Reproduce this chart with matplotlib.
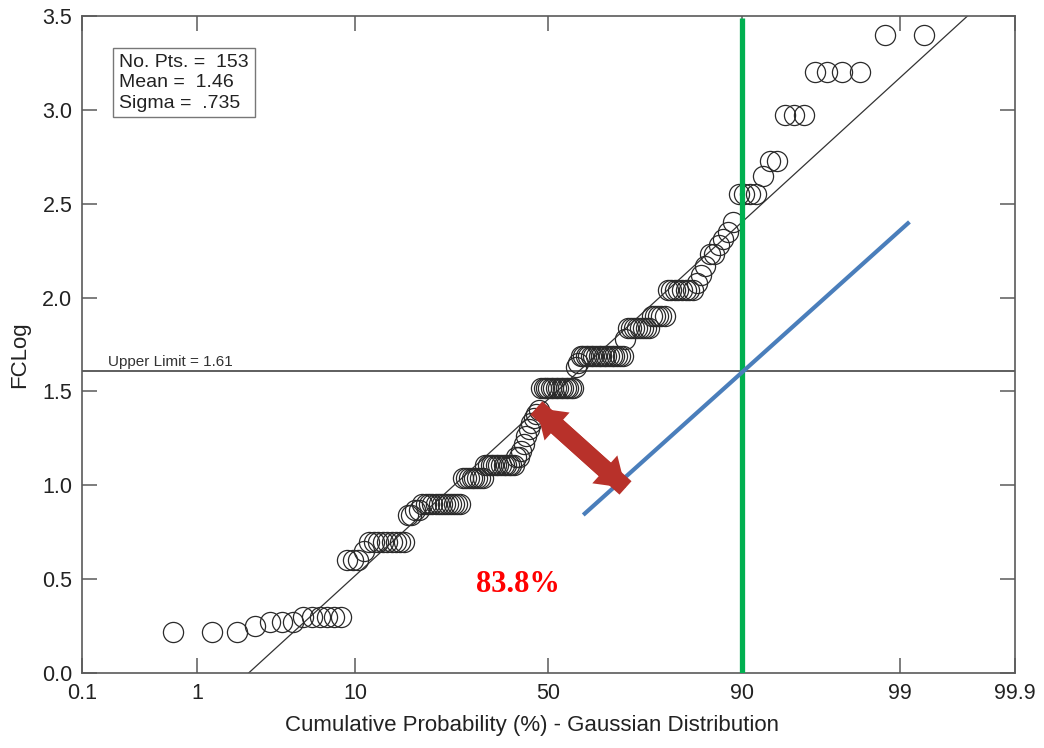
import numpy as np
import matplotlib
matplotlib.use("Agg")
import matplotlib.pyplot as plt
import matplotlib.transforms as mtransforms
from matplotlib.patches import FancyArrowPatch
from statistics import NormalDist

# FCLog values (sorted) and how many samples share each value
fc_levels = [0.22, 0.25, 0.27, 0.30, 0.60, 0.65, 0.70, 0.84, 0.87, 0.90,
             1.04, 1.11, 1.15, 1.18, 1.22, 1.26, 1.30, 1.33, 1.36, 1.38,
             1.40, 1.52, 1.63, 1.65, 1.69, 1.78, 1.84, 1.90, 2.04, 2.08,
             2.12, 2.17, 2.23, 2.28, 2.31, 2.35, 2.40, 2.55, 2.65, 2.73,
             2.97, 3.20, 3.40]
fc_counts = [3, 1, 3, 6, 3, 1, 9, 2, 2, 13,
             8, 12, 2, 1, 1, 1, 1, 1, 1, 1,
             1, 14, 1, 1, 17, 1, 8, 5, 8, 1,
             1, 1, 2, 1, 1, 1, 1, 4, 1, 2,
             3, 4, 2]

n_pts = 153
mean = 1.46
sigma = 0.735
upper_limit = 1.61
pct_ticks = [0.1, 1, 10, 50, 90, 99, 99.9]
pct_labels = ["0.1", "1", "10", "50", "90", "99", "99.9"]
y_ticks = [0.0, 0.5, 1.0, 1.5, 2.0, 2.5, 3.0, 3.5]

# hand drawn overlays
blue_x = [59.1, 99.16]
blue_y = [0.842, 2.403]
arrow_a = (46.8, 1.412)
arrow_b = (69.5, 0.986)
pct_text = "83.8%"

values = np.repeat(fc_levels, fc_counts)
ranks = np.arange(1, len(values) + 1)
cum_pct = 100.0 * ranks / (len(values) + 1)

_nd = NormalDist()
_inv = np.vectorize(_nd.inv_cdf, otypes=[float])
_cdf = np.vectorize(_nd.cdf, otypes=[float])


def to_z(p):
    p = np.clip(np.asarray(p, dtype=float) / 100.0, 1e-9, 1 - 1e-9)
    return _inv(p)


def from_z(z):
    return 100.0 * _cdf(np.asarray(z, dtype=float))


plt.rcParams['font.family'] = ['Liberation Sans', 'DejaVu Sans']
axis_gray = '#5a5a5a'

fig = plt.figure(figsize=(10.44, 7.48), dpi=100)
ax = fig.add_axes([82 / 1044, 75 / 748, 933 / 1044, 657 / 748])
ax.set_xscale('function', functions=(to_z, from_z))
ax.set_xlim(0.1, 99.9)
ax.set_ylim(0, 3.5)

ax.set_xticks(pct_ticks)
ax.set_xticklabels(pct_labels)
ax.set_yticks(y_ticks)
ax.set_yticklabels(["%.1f" % v for v in y_ticks])
ax.minorticks_off()
ax.tick_params(direction='in', length=11, width=1.1, color=axis_gray,
               labelsize=15.5, labelcolor='#222222', top=True, right=True, pad=7)
for s in ax.spines.values():
    s.set_color(axis_gray)
    s.set_linewidth(1.2)

ax.set_xlabel("Cumulative Probability (%) - Gaussian Distribution", fontsize=16,
              color='#222222')
ax.xaxis.set_label_coords(0.482, -0.064)
ax.set_ylabel("FCLog", fontsize=16, color='#222222')
ax.yaxis.set_label_coords(-0.056, 0.484)

# fitted gaussian line
zx = np.array([0.1, 99.9])
ax.plot(zx, mean + sigma * to_z(zx), color='#333333', lw=0.9, zorder=2)

# data points
ax.plot(cum_pct, values, 'o', ms=14.5, mfc='none', mec='#2a2a2a', mew=0.9, zorder=3)

# upper limit
ax.axhline(upper_limit, color='#333333', lw=1.1, zorder=2)
trans = mtransforms.blended_transform_factory(ax.transAxes, ax.transData)
ax.text(0.028, upper_limit + 0.025, "Upper Limit = %.2f" % upper_limit,
        transform=trans, fontsize=11, color='#333333')

# summary box
ax.text(0.040, 0.942, "No. Pts. =  %d\nMean =  %.2f\nSigma =  .%d" % (n_pts, mean, round(sigma * 1000)),
        transform=ax.transAxes, va='top', ha='left', fontsize=14, color='#222222',
        linespacing=1.25,
        bbox=dict(boxstyle='square,pad=0.3', fc='white', ec='#777777', lw=1.0))

# overlays
ax.plot([90, 90], [0, 3.49], color='#00B050', lw=3.8, solid_capstyle='butt', zorder=5)
ax.plot(blue_x, blue_y, color='#4A7EBB', lw=3.0, solid_capstyle='butt', zorder=5)
for tail, head in [(arrow_a, arrow_b), (arrow_b, arrow_a)]:
    ax.add_patch(FancyArrowPatch(tail, head,
                                 arrowstyle='simple,head_length=2.0,head_width=2.7,tail_width=1.3',
                                 mutation_scale=10, shrinkA=0, shrinkB=0,
                                 fc='#B8312A', ec='none', zorder=6))
ax.text(42.1, 0.469, pct_text, family=['Liberation Serif', 'DejaVu Serif'], fontweight='bold',
        fontsize=22, color='#FF0000', ha='center', va='center', zorder=6)

fig.savefig('out.png', dpi=100)
